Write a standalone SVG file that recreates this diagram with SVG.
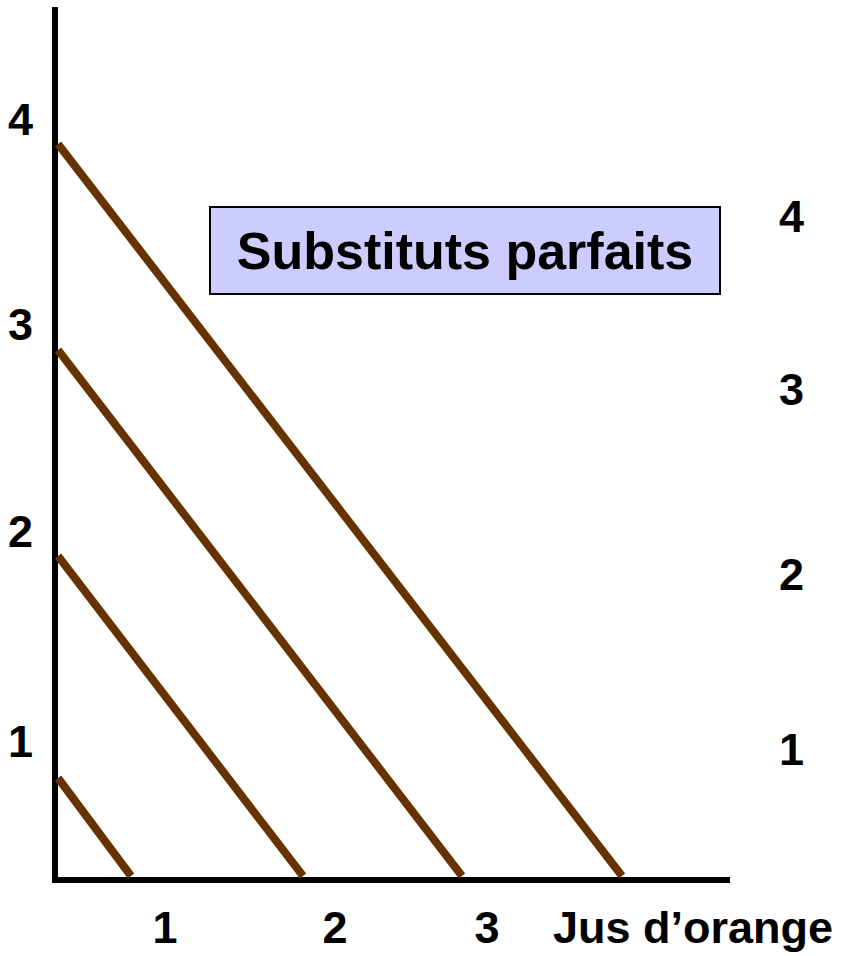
<svg xmlns="http://www.w3.org/2000/svg" width="852" height="956" viewBox="0 0 852 956">
<style>
.lbl{font-family:"Liberation Sans",Arial,sans-serif;font-weight:bold;font-size:45px;fill:#000}
.ic{stroke:#663300;stroke-width:8;fill:none}
.ax{stroke:#000;stroke-width:6;fill:none}
</style>
<rect width="852" height="956" fill="#fff"/>
<g id="axes">
<line class="ax" x1="55" y1="7" x2="55" y2="883"/>
<line class="ax" x1="52" y1="880" x2="730" y2="880"/>
</g>
<g id="curves">
<line class="ic" x1="58" y1="778" x2="131" y2="876"/>
<line class="ic" x1="58" y1="556" x2="303" y2="876"/>
<line class="ic" x1="58" y1="350" x2="462" y2="876"/>
<line class="ic" x1="58" y1="144" x2="622" y2="876"/>
</g>
<g id="title">
<rect x="210" y="207" width="510" height="87" fill="#CCCCFF" stroke="#000" stroke-width="2"/>
<text class="lbl" x="465" y="269" text-anchor="middle" style="font-size:52px">Substituts parfaits</text>
</g>
<g id="left-labels">
<text class="lbl" x="8" y="135">4</text>
<text class="lbl" x="8" y="340">3</text>
<text class="lbl" x="8" y="547">2</text>
<text class="lbl" x="8" y="757">1</text>
</g>
<g id="right-labels">
<text class="lbl" x="779" y="232">4</text>
<text class="lbl" x="779" y="405">3</text>
<text class="lbl" x="779" y="590">2</text>
<text class="lbl" x="779" y="765">1</text>
</g>
<g id="bottom-labels">
<text class="lbl" x="165" y="943" text-anchor="middle">1</text>
<text class="lbl" x="335" y="943" text-anchor="middle">2</text>
<text class="lbl" x="487" y="943" text-anchor="middle">3</text>
<text class="lbl" x="553" y="943">Jus d’orange</text>
</g>
</svg>
